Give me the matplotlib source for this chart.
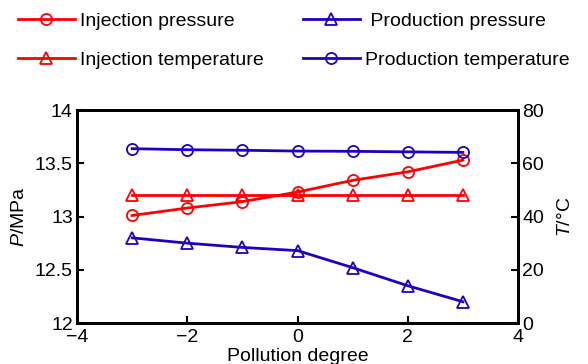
import matplotlib.pyplot as plt
from matplotlib.lines import Line2D

plt.rcParams['font.family'] = ['Liberation Sans', 'DejaVu Sans']
plt.rcParams['mathtext.fontset'] = 'custom'
plt.rcParams['mathtext.it'] = 'Liberation Sans:italic'
plt.rcParams['mathtext.rm'] = 'Liberation Sans'

# pollution degree
degree = [-3, -2, -1, 0, 1, 2, 3]

# pressures (MPa), left axis
inj_pressure = [13.01, 13.08, 13.14, 13.23, 13.34, 13.42, 13.53]
prod_pressure = [12.80, 12.75, 12.71, 12.68, 12.52, 12.35, 12.20]

# temperatures (degC), right axis
inj_temp = [48, 48, 48, 48, 48, 48, 48]
prod_temp = [65.5, 65.1, 64.9, 64.6, 64.5, 64.3, 64.1]

red = '#ff0000'
blue = '#2000c0'
fs = 14

fig = plt.figure(figsize=(5.88, 3.64), dpi=100)
ax = fig.add_axes([0.131, 0.1126, 0.75, 0.585])
ax2 = ax.twinx()

mk = dict(markersize=8, markerfacecolor='none', markeredgewidth=1.3, linewidth=2)
ax.plot(degree, inj_pressure, color=red, marker='o', markeredgecolor=red, **mk)
ax.plot(degree, prod_pressure, color=blue, marker='^', markeredgecolor=blue, **mk)
ax2.plot(degree, inj_temp, color=red, marker='^', markeredgecolor=red, **mk)
ax2.plot(degree, prod_temp, color=blue, marker='o', markeredgecolor=blue, **mk)

ax.set_xlim(-4, 4)
ax.set_ylim(12, 14)
ax2.set_ylim(0, 80)
ax.set_xticks([-4, -2, 0, 2, 4])
ax.set_yticks([12, 12.5, 13, 13.5, 14])
ax.set_yticklabels(['12', '12.5', '13', '13.5', '14'])
ax2.set_yticks([0, 20, 40, 60, 80])

for a in (ax, ax2):
    a.tick_params(direction='in', labelsize=fs, width=1.5, length=5, pad=3)
    for s in a.spines.values():
        s.set_linewidth(2)
ax.tick_params(axis='x', pad=4)

ax.set_xlabel('Pollution degree', fontsize=fs, labelpad=2)
ax.set_ylabel('$\\it{P}$/MPa', fontsize=fs, labelpad=5)
ax2.set_ylabel('$\\it{T}$/°C', fontsize=fs, labelpad=9)

handles = [
    Line2D([], [], color=red, marker='o', markeredgecolor=red, **mk),
    Line2D([], [], color=red, marker='^', markeredgecolor=red, **mk),
    Line2D([], [], color=blue, marker='^', markeredgecolor=blue, **mk),
    Line2D([], [], color=blue, marker='o', markeredgecolor=blue, **mk),
]
labels = ['Injection pressure', 'Injection temperature',
          ' Production pressure', 'Production temperature']
fig.legend(handles, labels, ncol=2, loc='upper left',
           bbox_to_anchor=(18 / 588, 1 - 12 / 364), borderaxespad=0, borderpad=0,
           frameon=False, fontsize=fs, handlelength=2.93, handletextpad=0.26,
           columnspacing=2.0, labelspacing=1.12)

fig.savefig('out.png', dpi=100)
